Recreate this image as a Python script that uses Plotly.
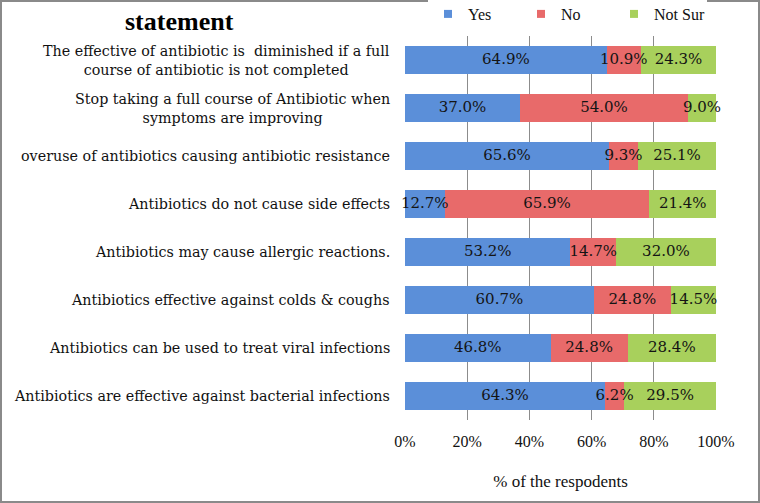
import plotly.graph_objects as go

categories = [
    "The effective of antibiotic is  diminished if a full<br>course of antibiotic is not completed",
    "Stop taking a full course of Antibiotic when<br>symptoms are improving",
    "overuse of antibiotics causing antibiotic resistance",
    "Antibiotics do not cause side effects",
    "Antibiotics may cause allergic reactions.",
    "Antibiotics effective against colds & coughs",
    "Antibiotics can be used to treat viral infections",
    "Antibiotics are effective against bacterial infections",
]
yes_vals = [64.9, 37.0, 65.6, 12.7, 53.2, 60.7, 46.8, 64.3]
no_vals = [10.9, 54.0, 9.3, 65.9, 14.7, 24.8, 24.8, 6.2]
notsure_vals = [24.3, 9.0, 25.1, 21.4, 32.0, 14.5, 28.4, 29.5]
series_names = ["Yes", "No", "Not Sur"]
colors = ["#5B8FD9", "#E86A6A", "#A8D05C"]
tick_vals = [0, 20, 40, 60, 80, 100]
tick_text = ["0%", "20%", "40%", "60%", "80%", "100%"]

FONT = "Liberation Serif"
LFONT = "DejaVu Serif"
W, H = 760, 503
ML, MR, MT, MB = 405, 44, 36, 83

series = [yes_vals, no_vals, notsure_vals]

fig = go.Figure()
for name, vals, col in zip(series_names, series, colors):
    fig.add_trace(go.Bar(
        name=name, y=categories, x=vals, orientation="h",
        marker=dict(color=col, line=dict(width=0)),
        hoverinfo="x+name", showlegend=False, legendgroup=name,
    ))
    # legend entry with a small square symbol
    fig.add_trace(go.Scatter(
        name=name, x=[None], y=[None], mode="markers", legendgroup=name,
        marker=dict(symbol="square", size=8, color=col),
        showlegend=True,
    ))

# data labels on top of all bars (centred in each segment)
lab_x, lab_y, lab_t = [], [], []
for i, c in enumerate(categories):
    start = 0.0
    for vals in series:
        v = vals[i]
        lab_x.append(start + v / 2)
        lab_y.append(c)
        lab_t.append(f"{v:.1f}%")
        start += v
fig.add_trace(go.Scatter(
    x=lab_x, y=lab_y, text=lab_t, mode="text", showlegend=False,
    textposition="middle center", hoverinfo="skip", cliponaxis=False,
    textfont=dict(family=LFONT, size=15, color="#141414"),
))

for c in categories:
    fig.add_annotation(
        x=0, xref="paper", y=c, yref="y", text=c, showarrow=False,
        xanchor="right", align="center", xshift=-13,
        font=dict(family=LFONT, size=14.3, color="#111"),
    )

pw = W - ML - MR
ph = H - MT - MB
fig.add_shape(type="rect", xref="paper", yref="paper",
              x0=-(ML - 1) / pw, x1=1 + (MR - 1) / pw,
              y0=-(MB - 1) / ph, y1=1 + (MT - 1) / ph,
              line=dict(color="#8a8a8a", width=2))

fig.update_layout(
    width=W, height=H,
    margin=dict(l=ML, r=MR, t=MT, b=MB, autoexpand=False),
    barmode="stack", bargap=0.42,
    paper_bgcolor="white", plot_bgcolor="white",
    font=dict(family=FONT, size=16, color="#111"),
    title=dict(text="<b>statement</b>", xref="container", yref="container",
               x=125 / W, xanchor="left", y=1 - 21 / H, yanchor="middle",
               font=dict(family=FONT, size=26, color="#000")),
    legend=dict(orientation="h", xref="container", yref="container",
                x=428 / W, xanchor="left", y=1 - 14 / H, yanchor="middle",
                font=dict(family=FONT, size=16, color="#111"),
                entrywidth=48, entrywidthmode="pixels",
                traceorder="normal", itemwidth=30),
    xaxis=dict(range=[0, 100], tickvals=tick_vals, ticktext=tick_text,
               showgrid=True, gridcolor="#8c8c8c", gridwidth=1,
               zeroline=False, showline=False,
               ticks="", tickfont=dict(family=FONT, size=16, color="#111"),
               ticklabelstandoff=10,
               title=dict(text="% of the respodents", standoff=26,
                          font=dict(family=FONT, size=17, color="#111"))),
    yaxis=dict(autorange="reversed", showticklabels=False, showgrid=False,
               zeroline=False, showline=False, ticks=""),
    showlegend=True,
)

fig.write_html("out.html", config={"displayModeBar": False},
               post_script="document.body.style.margin='0';")
